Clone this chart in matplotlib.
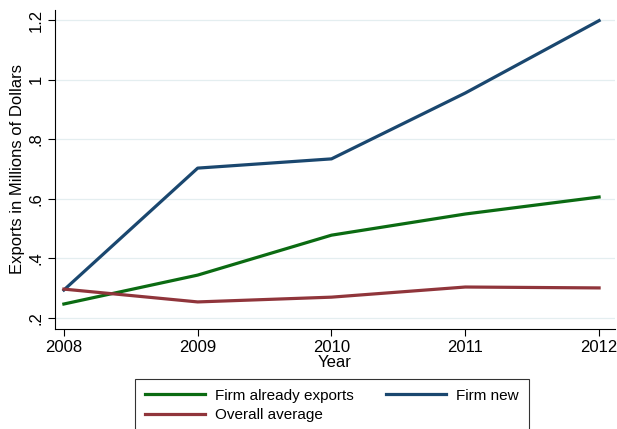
import matplotlib.pyplot as plt

plt.rcParams['font.family'] = ['Liberation Sans', 'DejaVu Sans']

years = [2008, 2009, 2010, 2011, 2012]
already_exports = [0.247, 0.344, 0.478, 0.549, 0.606]
firm_new = [0.294, 0.703, 0.734, 0.955, 1.198]
overall_avg = [0.297, 0.254, 0.270, 0.304, 0.301]

y_ticks = [0.2, 0.4, 0.6, 0.8, 1.0, 1.2]
y_labels = ['.2', '.4', '.6', '.8', '1', '1.2']

fig = plt.figure(figsize=(6.17, 4.29), dpi=100)
ax = fig.add_axes([0.089, 0.233, 0.908, 0.744])

l_green, = ax.plot(years, already_exports, color='#0b6b12', lw=2.3, label='Firm already exports')
l_blue, = ax.plot(years, firm_new, color='#1a476f', lw=2.3, label='Firm new')
l_red, = ax.plot(years, overall_avg, color='#90353b', lw=2.3, label='Overall average')

ax.set_xlim(2007.933, 2012.12)
ax.set_ylim(0.163, 1.234)
ax.set_xticks(years)
ax.set_yticks(y_ticks)
ax.set_yticklabels(y_labels, rotation=90, va='center')
ax.tick_params(labelsize=12, length=5, width=0.8, direction='out', pad=3)
ax.grid(axis='y', color='#e4eef0', lw=0.9)
ax.set_axisbelow(True)
for s in ['top', 'right']:
    ax.spines[s].set_visible(False)

ax.set_xlabel('Year', fontsize=12, labelpad=0)
ax.set_ylabel('Exports in Millions of Dollars', fontsize=12, labelpad=3)

leg = fig.legend([l_green, l_red, l_blue],
                 ['Firm already exports', 'Overall average', 'Firm new'],
                 loc='upper center', bbox_to_anchor=(0.538, 0.117), ncol=2,
                 fontsize=11, handlelength=3.9, frameon=True, fancybox=False,
                 edgecolor='black', borderpad=0.65, labelspacing=0.35,
                 columnspacing=2.15, handletextpad=0.65, borderaxespad=0)
leg.get_frame().set_linewidth(0.8)

fig.savefig('out.png', dpi=100)
